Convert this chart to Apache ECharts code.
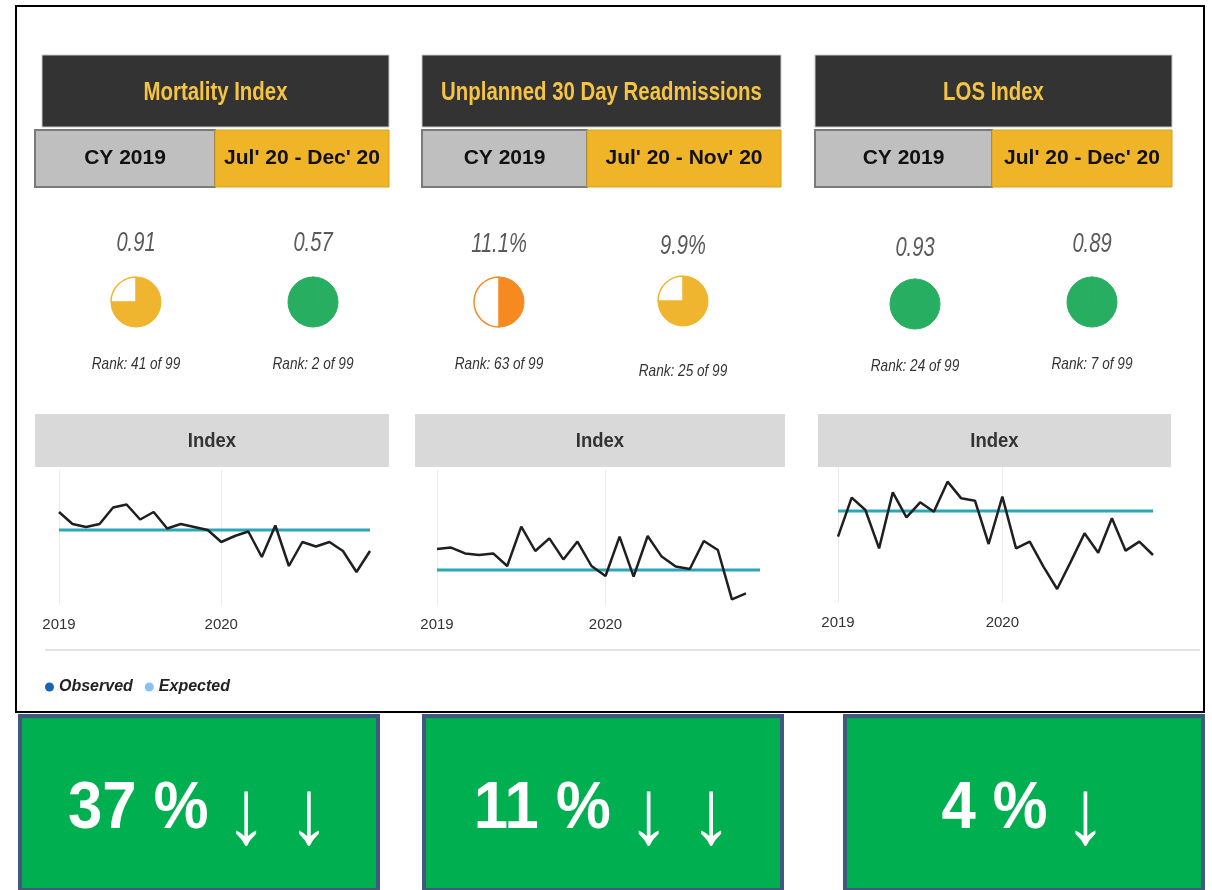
<!DOCTYPE html>
<html>
<head>
<meta charset="utf-8">
<script src="https://cdn.jsdelivr.net/npm/echarts@6/dist/echarts.min.js"></script>
<style>
html, body { margin: 0; padding: 0; background: #fff; }
#main { width: 1212px; height: 890px; }
</style>
</head>
<body>
<div id="main"></div>
<script>
// ---- data ----
const panelTitles = ['Mortality Index', 'Unplanned 30 Day Readmissions', 'LOS Index'];
const baseLabels = ['CY 2019', 'CY 2019', 'CY 2019'];
const recentLabels = ["Jul' 20 - Dec' 20", "Jul' 20 - Nov' 20", "Jul' 20 - Dec' 20"];
const baseValues = ['0.91', '11.1%', '0.93'];
const recentValues = ['0.57', '9.9%', '0.89'];
const baseRanks = ['Rank: 41 of 99', 'Rank: 63 of 99', 'Rank: 24 of 99'];
const recentRanks = ['Rank: 2 of 99', 'Rank: 25 of 99', 'Rank: 7 of 99'];
// harvey ball: filled share and status colour
const baseFill = [75, 50, 100];
const baseEmpty = [25, 50, 0];
const recentFill = [100, 75, 100];
const recentEmpty = [0, 25, 0];
const baseStatus = ['gold', 'orange', 'green'];
const recentStatus = ['green', 'gold', 'green'];

const months = ['2019-01', '2019-02', '2019-03', '2019-04', '2019-05', '2019-06',
    '2019-07', '2019-08', '2019-09', '2019-10', '2019-11', '2019-12',
    '2020-01', '2020-02', '2020-03', '2020-04', '2020-05', '2020-06',
    '2020-07', '2020-08', '2020-09', '2020-10', '2020-11', '2020-12'];

const mortalityObserved = [1.12, 1.04, 1.02, 1.04, 1.15, 1.17, 1.07, 1.12, 1.01, 1.04, 1.02, 1.00,
    0.92, 0.96, 0.99, 0.82, 1.03, 0.76, 0.92, 0.89, 0.92, 0.86, 0.72, 0.86];
const mortalityExpected = [1.00, 1.00, 1.00, 1.00, 1.00, 1.00, 1.00, 1.00, 1.00, 1.00, 1.00, 1.00,
    1.00, 1.00, 1.00, 1.00, 1.00, 1.00, 1.00, 1.00, 1.00, 1.00, 1.00, 1.00];

const readmitObserved = [11.05, 11.12, 10.83, 10.75, 10.83, 10.20, 12.17, 10.95, 11.58, 10.53, 11.42, 10.20,
    9.70, 11.67, 9.67, 11.70, 10.67, 10.17, 10.05, 11.45, 11.00, 8.53, 8.83];
const readmitExpected = [10.0, 10.0, 10.0, 10.0, 10.0, 10.0, 10.0, 10.0, 10.0, 10.0, 10.0, 10.0,
    10.0, 10.0, 10.0, 10.0, 10.0, 10.0, 10.0, 10.0, 10.0, 10.0, 10.0, 10.0];

const losObserved = [0.923, 1.040, 1.003, 0.888, 1.056, 0.981, 1.026, 0.998, 1.088, 1.038, 1.031, 0.901,
    1.043, 0.888, 0.908, 0.833, 0.766, 0.848, 0.933, 0.875, 0.978, 0.881, 0.908, 0.868];
const losExpected = [1.0, 1.0, 1.0, 1.0, 1.0, 1.0, 1.0, 1.0, 1.0, 1.0, 1.0, 1.0,
    1.0, 1.0, 1.0, 1.0, 1.0, 1.0, 1.0, 1.0, 1.0, 1.0, 1.0, 1.0];

const changeValues = ['37 %', '11 %', '4 %'];
const changeArrows = [2, 2, 1];

// ---- layout ----
const FONT = '"Liberation Sans", Arial, sans-serif';
const statusColors = { gold: '#F0B52E', orange: '#F68A20', green: '#27AE60' };

const observedSets = [mortalityObserved, readmitObserved, losObserved];
const expectedSets = [mortalityExpected, readmitExpected, losExpected];
const yRanges = [[0.5, 1.4], [8.25, 15], [0.724, 1.132]];

const panels = [
    { title: [42, 55, 347, 72], base: [35, 130, 180, 57], recent: [215, 130, 174, 57], index: [35, 414, 354, 53],
      grid: { left: 59, top: 470, width: 311, height: 135 },
      balls: [[136, 243, 302, 364], [313, 243, 302, 364]], box: [18, 714, 362, 178] },
    { title: [422, 55, 359, 72], base: [422, 130, 165, 57], recent: [587, 130, 194, 57], index: [415, 414, 370, 53],
      grid: { left: 437, top: 470, width: 323, height: 135 },
      balls: [[499, 244, 302, 364], [683, 246, 301, 371]], box: [422, 714, 362, 178] },
    { title: [815, 55, 357, 72], base: [815, 130, 177, 57], recent: [992, 130, 180, 57], index: [818, 414, 353, 53],
      grid: { left: 838, top: 467, width: 315, height: 136 },
      balls: [[915, 248, 304, 366], [1092, 244, 302, 364]], box: [843, 714, 362, 178] },
];

const chart = echarts.init(document.getElementById('main'));

const graphics = [
    { type: 'rect', shape: { x: 16, y: 6, width: 1188, height: 706 },
      style: { fill: '#fff', stroke: '#000', lineWidth: 2 } },
    { type: 'line', shape: { x1: 45, y1: 650, x2: 1200, y2: 650 },
      style: { stroke: '#e2e2e2', lineWidth: 2 } },
];

// centred text, optionally squeezed horizontally
const label = (x, y, text, o) => ({
    type: 'text', x: x, y: y, scaleX: o.sx || 1, z: 10,
    style: { x: 0, y: 0, text: text, align: 'center', verticalAlign: 'middle',
        fill: o.color, fontFamily: FONT, fontWeight: o.weight || 'normal',
        fontStyle: o.style || 'normal', fontSize: o.size }
});
const rect = (r, fill, stroke, lw) => ({
    type: 'rect', shape: { x: r[0], y: r[1], width: r[2], height: r[3] },
    style: { fill: fill, stroke: stroke, lineWidth: lw }
});

const xAxes = [], yAxes = [], grids = [], series = [];

panels.forEach((p, i) => {
    graphics.push(rect(p.title, '#333333', '#c8c8c8', 1));
    graphics.push(label(p.title[0] + p.title[2] / 2, 93, panelTitles[i],
        { color: '#F5C445', weight: 'bold', size: 25.5, sx: 0.8 }));

    graphics.push(rect(p.base, '#BFBFBF', '#7a7a7a', 2));
    graphics.push(label(p.base[0] + p.base[2] / 2, 158, baseLabels[i], { color: '#111', weight: 'bold', size: 21 }));
    graphics.push(rect(p.recent, '#F0B429', '#d9a020', 1));
    graphics.push(label(p.recent[0] + p.recent[2] / 2, 158, recentLabels[i], { color: '#111', weight: 'bold', size: 21 }));

    const vals = [baseValues[i], recentValues[i]];
    const ranks = [baseRanks[i], recentRanks[i]];
    p.balls.forEach((b, k) => {
        graphics.push(label(b[0], b[1], vals[k], { color: '#5a5a5a', style: 'italic', size: 28, sx: 0.72 }));
        graphics.push(label(b[0], b[3], ranks[k], { color: '#333', style: 'italic', size: 17, sx: 0.8 }));
    });

    graphics.push(rect(p.index, '#D9D9D9', null, 0));
    graphics.push(label(p.index[0] + p.index[2] / 2, 441, 'Index', { color: '#333', weight: 'bold', size: 21, sx: 0.88 }));

    graphics.push(rect([p.box[0] + 2, p.box[1] + 2, p.box[2] - 4, p.box[3] - 4], '#00B050', '#41597F', 4));
    let txt = '{n|' + changeValues[i] + '}{a|↓}';
    if (changeArrows[i] > 1) txt += '{b|↓}';
    graphics.push({
        type: 'text', x: p.box[0] + p.box[2] / 2, y: 810, scaleX: 0.92, z: 10,
        style: { x: 0, y: 0, align: 'center', verticalAlign: 'middle', text: txt,
            rich: {
                n: { fontFamily: FONT, fontWeight: 'bold', fontSize: 67, fill: '#fff' },
                a: { fontFamily: FONT, fontSize: 92, fill: '#fff', padding: [16, 0, 0, 18] },
                b: { fontFamily: FONT, fontSize: 92, fill: '#fff', padding: [16, 0, 0, 22] }
            } }
    });

    // harvey balls
    const fills = [baseFill[i], recentFill[i]];
    const empties = [baseEmpty[i], recentEmpty[i]];
    const stats = [baseStatus[i], recentStatus[i]];
    p.balls.forEach((b, k) => {
        const c = statusColors[stats[k]];
        series.push({
            type: 'pie', center: [b[0], b[2]], radius: [0, 25], startAngle: 90, clockwise: true,
            silent: true, label: { show: false }, labelLine: { show: false },
            data: [
                { value: fills[k], itemStyle: { color: c, borderColor: c, borderWidth: 1 } },
                { value: empties[k], itemStyle: { color: '#fff', borderColor: c, borderWidth: 1.5 } }
            ]
        });
    });

    // trend charts
    grids.push(p.grid);
    const yearTick = (idx, val) => val.slice(5) === '01';
    xAxes.push({
        type: 'category', gridIndex: i, data: months, boundaryGap: false,
        axisLine: { show: false }, axisTick: { show: false },
        axisLabel: { interval: yearTick, formatter: (v) => v.slice(0, 4), margin: 12,
            color: '#333', fontFamily: FONT, fontSize: 15 },
        splitLine: { show: true, interval: yearTick, lineStyle: { color: '#ebebeb', width: 1 } }
    });
    yAxes.push({
        type: 'value', gridIndex: i, min: yRanges[i][0], max: yRanges[i][1], show: false,
        splitLine: { show: false }
    });
    series.push({
        name: 'Expected', type: 'line', xAxisIndex: i, yAxisIndex: i, data: expectedSets[i],
        symbol: 'none', color: '#2AA8B8', lineStyle: { color: '#2AA8B8', width: 3 }, z: 3
    });
    series.push({
        name: 'Observed', type: 'line', xAxisIndex: i, yAxisIndex: i, data: observedSets[i],
        symbol: 'none', color: '#1f1f1f', lineStyle: { color: '#1f1f1f', width: 2.5 }, z: 4
    });
});

chart.setOption({
    animation: false,
    graphic: graphics,
    grid: grids,
    xAxis: xAxes,
    yAxis: yAxes,
    legend: {
        left: 40, top: 674, icon: 'circle', itemWidth: 9, itemHeight: 9, itemGap: 12,
        textStyle: { fontFamily: FONT, fontStyle: 'italic', fontWeight: 'bold', fontSize: 16, color: '#222' },
        data: [
            { name: 'Observed', itemStyle: { color: '#1565B0' } },
            { name: 'Expected', itemStyle: { color: '#86C2F2' } }
        ]
    },
    series: series
});
</script>
</body>
</html>
